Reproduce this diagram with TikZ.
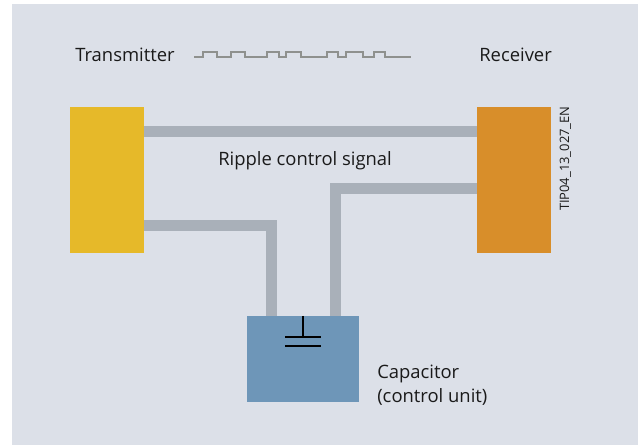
\documentclass[tikz,border=0pt]{standalone}
\usepackage{fontspec}
\setmainfont{Open Sans}
\usetikzlibrary{calc}
\definecolor{panel}{HTML}{DCE0E8}
\definecolor{wire}{HTML}{A9B0B9}
\definecolor{pulse}{HTML}{8F918E}
\definecolor{sender}{HTML}{E6B929}
\definecolor{taker}{HTML}{D88E2A}
\definecolor{store}{HTML}{6E96B8}
\definecolor{ink}{HTML}{1A1A1A}
\tikzset{
  unit/.style={fill=#1,inner sep=0pt,outer sep=0pt,minimum width=74*0.025cm,minimum height=146*0.025cm},
  wireline/.style={draw=wire,line width=11*0.025cm},
  pulseline/.style={draw=pulse,line width=2.5*0.025cm},
  plate/.style={draw=black,line width=2.5*0.025cm},
  lbl/.style={font=\fontsize{13.1pt}{17pt}\selectfont,text=ink,inner sep=0pt,anchor=base west,align=left},
}
\begin{document}
\begin{tikzpicture}[x=0.025cm,y=-0.025cm]
    \useasboundingbox (0,0) rectangle (638,445);
    \fill[panel] (12,4) rectangle (638,445);
    % blocks
    \node[unit=sender,anchor=north west] (tx) at (70,107) {};
    \node[unit=taker,anchor=north west] (rx) at (477,107) {};
    \node[unit=store,anchor=north west,minimum width=112*0.025cm,minimum height=86*0.025cm] (cap) at (247,316) {};
    % connectors
    \draw[wireline] ($(tx.north east)+(0,25)$) -- ($(rx.north west)+(0,25)$);
    \draw[wireline] ($(tx.north east)+(0,119)$) -| ($(cap.north west)+(24,0)$);
    \draw[wireline] ($(cap.north west)+(88,0)$) |- ($(rx.north west)+(0,82)$);
    % capacitor symbol
    \coordinate (upper) at ($(cap.north)+(0,21)$);
    \coordinate (lower) at ($(cap.north)+(0,30)$);
    \draw[plate] (cap.north) -- (upper);
    \draw[plate] ($(upper)+(-18,0)$) -- ($(upper)+(18,0)$);
    \draw[plate] ($(lower)+(-18,0)$) -- ($(lower)+(18,0)$);
    % signal trace
    \draw[pulseline] (194,57) -| (203,52) -| (217,57) -| (231,52) -| (245,57) -| (267,52) -| (279,57)
      -| (286,52) -| (301,57) -| (327,52) -| (338,57) -| (346,52) -| (363,57) -| (374,52) -| (385,57) -- (411,57);
    % labels
    \node[lbl] (txlabel) at (75,62) {Transmitter};
    \node[lbl] (rxlabel) at (479,62) {Receiver};
    \node[lbl] (ripple) at (218,166) {Ripple control signal};
    \node[lbl] (caplabel) at (377,402) {Capacitor\\(control unit)};
    \node[lbl,font=\fontsize{9.2pt}{9pt}\selectfont,rotate=90,anchor=base east] (tag) at (569,106) {TIP04\_13\_027\_EN};
\end{tikzpicture}
\end{document}
